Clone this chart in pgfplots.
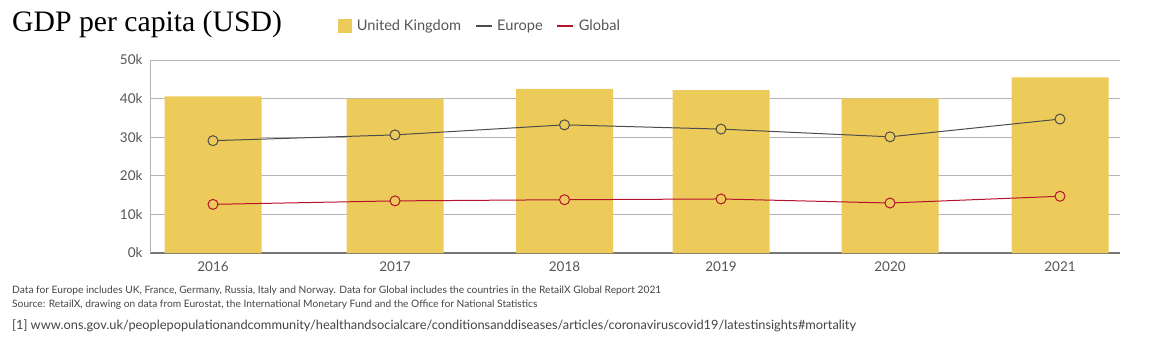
\documentclass[border=0pt]{standalone}
\usepackage{fontspec}
\setmainfont{Lato}
\newfontfamily\titlefont{Liberation Serif}
\usepackage{pgfplots}
\pgfplotsset{compat=1.18}
\definecolor{barcol}{HTML}{EDCB5A}
\definecolor{eucol}{HTML}{4D4D4D}
\definecolor{glcol}{HTML}{B5122E}
\definecolor{tickcol}{HTML}{555555}
\definecolor{gridcol}{HTML}{B5B5B5}
\definecolor{notecol}{HTML}{444444}
\begin{document}
\begin{tikzpicture}
\useasboundingbox (0,0) rectangle (1176pt,341pt);
\node[anchor=base west, font=\titlefont\fontsize{29.7}{32}\selectfont, text=black, inner sep=0] at (12pt,309pt) {GDP per capita (USD)};
\begin{axis}[
  at={(150pt,88pt)}, anchor=south west,
  scale only axis, width=970pt, height=193pt,
  xmin=150, xmax=1120, ymin=0, ymax=50000,
  xtick={213,395,564.5,721,890,1060},
  xticklabels={2016,2017,2018,2019,2020,2021},
  ytick={0,10000,20000,30000,40000,50000},
  yticklabels={0k,10k,20k,30k,40k,50k},
  scaled y ticks=false,
  /pgf/number format/assume math mode=true,
  ticklabel style={font=\fontsize{13.5}{15}\selectfont, text=tickcol},
  major tick length=0pt,
  axis lines*=left,
  axis line style={draw=gridcol, line width=1pt, -},
  x axis line style={draw=tickcol!80, line width=1.3pt},
  ymajorgrids, grid style={draw=gridcol, line width=0.9pt},
  yticklabel style={xshift=-4pt},
  xticklabel style={yshift=-5pt},
  clip=false,
  legend columns=3,
  legend style={at={(0.194,1.177)}, anchor=west, draw=none, fill=none, inner sep=0pt,
    font=\fontsize{14.6}{16}\selectfont, text=tickcol,
    /tikz/every odd column/.append style={column sep=2.5pt},
    /tikz/every even column/.append style={column sep=12pt}},
]
\addplot[ybar, bar width=97, fill=barcol, draw=none,
  legend image code/.code={\fill[barcol] (0pt,-7pt) rectangle (14pt,7pt);}]
  coordinates {(213,40600) (395,40000) (564.5,42500) (721,42200) (890,40050) (1060,45500)};
\addlegendentry{United Kingdom}
\addplot[eucol, line width=1pt, mark=*, mark size=5pt, mark options={fill=barcol, draw=eucol, line width=1pt},
  legend image code/.code={\draw[eucol, line width=1.6pt] (0pt,0pt) -- (16pt,0pt);}]
  coordinates {(213,29100) (395,30600) (564.5,33200) (721,32100) (890,30100) (1060,34700)};
\addlegendentry{Europe}
\addplot[glcol, line width=1pt, mark=*, mark size=5pt, mark options={fill=barcol, draw=glcol, line width=1pt},
  legend image code/.code={\draw[glcol, line width=1.6pt] (0pt,0pt) -- (16pt,0pt);}]
  coordinates {(213,12600) (395,13500) (564.5,13800) (721,14000) (890,12950) (1060,14700)};
\addlegendentry{Global}
\end{axis}
\node[anchor=base west, inner sep=0, font=\fontsize{10.2}{12}\selectfont, text=notecol] at (12pt,48pt) {Data for Europe includes UK, France, Germany, Russia, Italy and Norway. Data for Global includes the countries in the RetailX Global Report 2021};
\node[anchor=base west, inner sep=0, font=\fontsize{10.2}{12}\selectfont, text=notecol] at (12pt,34pt) {Source: RetailX, drawing on data from Eurostat, the International Monetary Fund and the Office for National Statistics};
\node[anchor=base west, inner sep=0, font=\fontsize{12.8}{14}\selectfont, text=notecol] at (12pt,12pt) {[1] www.ons.gov.uk/peoplepopulationandcommunity/healthandsocialcare/conditionsanddiseases/articles/coronaviruscovid19/latestinsights\#mortality};
\end{tikzpicture}
\end{document}
